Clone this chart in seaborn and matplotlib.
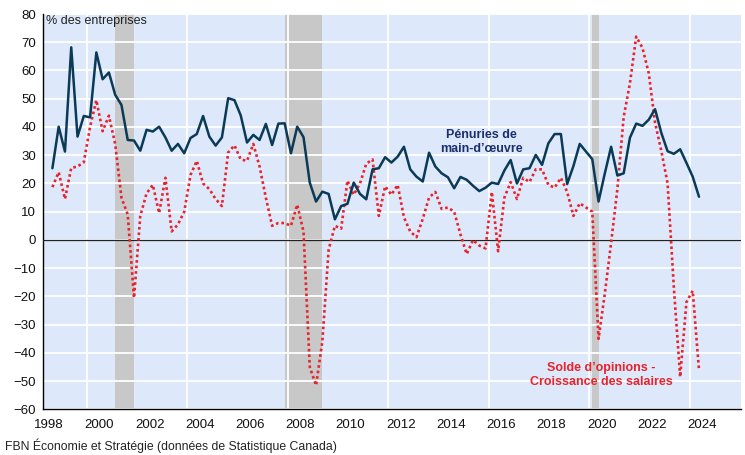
import pandas as pd
import matplotlib.pyplot as plt
import seaborn as sns

# Quarterly data, 1998Q3 to 2024Q2 (% of firms)
quarters = pd.period_range('1998Q3', '2024Q2', freq='Q')

# Labour shortages
shortage = [25.4, 40.1, 31.3, 68.2, 36.6, 43.9, 43.4, 66.4, 56.9, 59.3,
            51.4, 47.8, 35.4, 35.2, 31.6, 39.0, 38.4, 40.1, 36.3, 31.6,
            34.0, 30.7, 36.1, 37.5, 43.9, 36.6, 33.4, 36.3, 50.2, 49.5,
            44.1, 34.5, 37.2, 35.4, 41.1, 33.6, 41.2, 41.3, 30.7, 40.1,
            36.4, 20.3, 13.6, 17.1, 16.3, 7.3, 12.0, 12.8, 20.3, 16.3,
            14.4, 25.0, 25.4, 29.3, 27.4, 29.5, 33.0, 25.0, 22.4, 20.7,
            30.9, 26.0, 23.6, 22.2, 18.3, 22.3, 21.3, 19.2, 17.3, 18.5,
            20.3, 19.8, 24.6, 28.3, 20.0, 25.0, 25.4, 30.1, 26.6, 34.2,
            37.5, 37.5, 19.8, 26.2, 34.0, 31.3, 28.6, 13.6, 23.6, 33.0,
            22.8, 23.6, 36.2, 41.2, 40.4, 42.6, 46.3, 37.9, 31.4, 30.5,
            32.1, 27.3, 22.4, 15.3]

# Balance of opinion - wage growth
wages = [18.7, 24.0, 14.5, 25.5, 26.0, 27.5, 40.0, 49.5, 38.5, 44.0,
         34.0, 15.0, 9.0, -20.5, 8.5, 16.5, 19.5, 9.5, 22.0, 3.0,
         5.5, 10.0, 23.0, 28.0, 20.0, 18.0, 14.5, 12.0, 31.0, 33.5,
         28.5, 28.0, 34.0, 26.0, 15.0, 5.0, 6.0, 6.0, 5.0, 12.5,
         3.0, -45.0, -51.5, -36.0, -3.5, 5.0, 4.0, 21.0, 16.0, 20.0,
         27.0, 28.5, 8.5, 19.0, 16.0, 19.5, 8.0, 3.0, 1.0, 7.5,
         15.0, 17.0, 11.0, 11.5, 10.0, 2.0, -5.0, 0.0, -2.0, -3.0,
         17.0, -4.0, 15.0, 20.5, 14.5, 22.0, 20.5, 25.0, 25.0, 19.5,
         18.5, 22.0, 17.0, 8.5, 13.0, 11.5, 10.0, -35.0, -19.0, -1.0,
         18.0, 43.5, 55.5, 72.0, 68.0, 59.0, 41.5, 31.5, 20.0, -17.0,
         -48.5, -22.0, -18.0, -46.0]

# Recessions (shaded)
rec_start = ['2001Q1', '2007Q4', '2020Q1']
rec_end = ['2001Q4', '2009Q2', '2020Q2']

year_labels = list(range(1998, 2025, 2))
grid_years = list(range(2000, 2025, 4))


def mid(p):
    p = pd.Period(p, freq='Q')
    return p.year + (p.quarter - 0.5) / 4


df = pd.DataFrame({'t': [mid(q) for q in quarters],
                   'shortage': shortage, 'wages': wages})

sns.set_style('white')
plt.rcParams['font.family'] = ['Liberation Sans', 'DejaVu Sans']

navy = '#0b3a57'
red = '#e8232b'

fig = plt.figure(figsize=(7.45, 4.55), dpi=100)
ax = fig.add_axes([0.0577, 0.1002, 0.937, 0.869])
ax.set_facecolor('#dde9fb')

for s, e in zip(rec_start, rec_end):
    ax.axvspan(mid(s), mid(e), color='#c8c8c8', lw=0, zorder=1)

for y in range(-60, 81, 10):
    ax.axhline(y, color='white', lw=1.3, zorder=2)
for g in grid_years:
    ax.axvline(g, color='white', lw=1.3, zorder=2)
ax.axhline(0, color='#222222', lw=0.9, zorder=3)

sns.lineplot(data=df, x='t', y='wages', ax=ax, color=red, lw=1.9,
             linestyle=(0, (1, 1.1)), zorder=4)
sns.lineplot(data=df, x='t', y='shortage', ax=ax, color=navy, lw=1.8, zorder=5)

ax.set_xlim(1998.375, 2026.05)
ax.set_ylim(-60, 80)
ax.set_yticks(range(-60, 81, 10))
ax.set_xticks([y + 0.5 for y in year_labels])
ax.set_xticklabels([str(y) for y in year_labels])
ax.set_xticks([1998.25 + 0.25 * k for k in range(112)], minor=True)
ax.tick_params(axis='x', which='major', length=0, labelsize=9.5, pad=7,
               labelcolor='#111111')
ax.tick_params(axis='x', which='minor', length=3, width=0.8, direction='out')
ax.tick_params(axis='y', length=3, width=0.8, labelsize=9.5, pad=2,
               direction='out', labelcolor='#111111')
ax.set_xlabel('')
ax.set_ylabel('')

for side in ['top', 'right']:
    ax.spines[side].set_visible(False)
for side in ['left', 'bottom']:
    ax.spines[side].set_color('black')
    ax.spines[side].set_linewidth(1.0)

ax.text(0.004, 0.997, '% des entreprises', transform=ax.transAxes,
        va='top', ha='left', fontsize=9, color='#222222')
ax.text(2015.72, 34.7, 'Pénuries de\nmain-d’œuvre', ha='center', va='center',
        fontsize=9, fontweight='bold', color='#1a2f6b', linespacing=1.15)
ax.text(2020.47, -47.8, 'Solde d’opinions -\nCroissance des salaires', ha='center',
        va='center', fontsize=9, fontweight='bold', color=red, linespacing=1.15)

fig.text(0.007, 0.011, 'FBN Économie et Stratégie (données de Statistique Canada)',
         fontsize=8.8, color='#222222')

fig.savefig('out.png', dpi=100)
